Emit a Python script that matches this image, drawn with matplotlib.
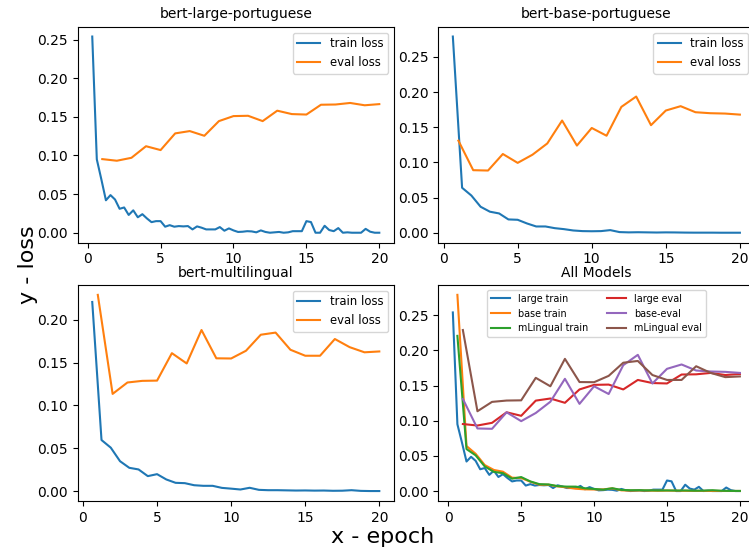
import numpy as np
import matplotlib
matplotlib.use('Agg')
import matplotlib.pyplot as plt

# train loss of bert-large, logged 64 times (every 5/16 epoch)
large_train = [0.254, 0.095, 0.069, 0.042, 0.0487, 0.043, 0.031, 0.0327, 0.023, 0.029,
               0.020, 0.024, 0.0185, 0.0137, 0.015, 0.015, 0.0078, 0.0098, 0.0078, 0.0086,
               0.0082, 0.0086, 0.0043, 0.0082, 0.0065, 0.0043, 0.0043, 0.0043, 0.0073, 0.0026,
               0.0056, 0.003, 0.001, 0.0013, 0.002, 0.0017, 0.0005, 0.003, 0.001, 0.0,
               0.0005, 0.001, 0.0, 0.0005, 0.002, 0.002, 0.002, 0.015, 0.0138, 0.0,
               0.0, 0.009, 0.0035, 0.002, 0.006, 0.0, 0.0005, 0.0, 0.0, 0.0,
               0.005, 0.0013, 0.0, 0.0]
# train loss of bert-base and bert-multilingual, logged 32 times (every 5/8 epoch)
base_train = [0.279, 0.064, 0.053, 0.037, 0.030, 0.0275, 0.019, 0.0185, 0.0133, 0.009,
              0.009, 0.0066, 0.0052, 0.0033, 0.0024, 0.0022, 0.0024, 0.0038, 0.001, 0.0006,
              0.0008, 0.0006, 0.0004, 0.0006, 0.0005, 0.0003, 0.0002, 0.0002, 0.0002, 0.0001,
              0.0001, 0.0001]
mling_train = [0.2207, 0.0597, 0.0508, 0.035, 0.0273, 0.0254, 0.0176, 0.0199, 0.0137, 0.0098,
               0.0094, 0.007, 0.0063, 0.0063, 0.0039, 0.003, 0.002, 0.004, 0.0016, 0.0012,
               0.0012, 0.001, 0.0008, 0.0009, 0.0007, 0.0008, 0.0005, 0.0006, 0.0012, 0.0004,
               0.0002, 0.0002]
# eval loss, once per epoch
eval_epoch = list(range(1, 21))
large_eval = [0.0953, 0.0932, 0.097, 0.112, 0.107, 0.1286, 0.1316, 0.1255, 0.1445, 0.151,
              0.1514, 0.1445, 0.158, 0.1536, 0.153, 0.1657, 0.166, 0.168, 0.165, 0.1665]
base_eval = [0.131, 0.089, 0.0885, 0.112, 0.0994, 0.111, 0.127, 0.1596, 0.124, 0.149,
             0.138, 0.179, 0.1937, 0.153, 0.1738, 0.180, 0.1714, 0.170, 0.1695, 0.168]
mling_eval = [0.229, 0.1135, 0.1268, 0.1287, 0.129, 0.161, 0.149, 0.188, 0.155, 0.1548,
              0.1638, 0.1825, 0.185, 0.165, 0.158, 0.158, 0.1775, 0.168, 0.162, 0.163]

large_epoch = np.arange(1, len(large_train) + 1) * 20 / len(large_train)
base_epoch = np.arange(1, len(base_train) + 1) * 20 / len(base_train)
mling_epoch = np.arange(1, len(mling_train) + 1) * 20 / len(mling_train)

fig, axs = plt.subplots(2, 2, figsize=(7.49, 5.51), dpi=100)
plt.subplots_adjust(left=0.104, right=1.007, bottom=0.091, top=0.9515, wspace=0.142, hspace=0.197)

panels = [('bert-large-portuguese', large_epoch, large_train, large_eval),
          ('bert-base-portuguese', base_epoch, base_train, base_eval),
          ('bert-multilingual', mling_epoch, mling_train, mling_eval)]
for ax, (name, ep, tr, ev) in zip([axs[0, 0], axs[0, 1], axs[1, 0]], panels):
    ax.plot(ep, tr, label='train loss')
    ax.plot(eval_epoch, ev, label='eval loss')
    ax.set_title(name, fontsize=10)
    ax.legend(loc='upper right', fontsize='small')

# all models together
ax = axs[1, 1]
ax.plot(large_epoch, large_train, label='large train')
ax.plot(base_epoch, base_train, label='base train')
ax.plot(mling_epoch, mling_train, label='mLingual train')
ax.plot(eval_epoch, large_eval, label='large eval')
ax.plot(eval_epoch, base_eval, label='base-eval')
ax.plot(eval_epoch, mling_eval, label='mLingual eval')
ax.set_title('All Models', fontsize=10)
ax.legend(loc='upper center', ncol=2, fontsize='x-small')

for a in axs.flat:
    a.set_xticks([0, 5, 10, 15, 20])

fig.text(0.511, 0.025, 'x - epoch', fontsize=16, ha='center', va='center')
fig.text(0.038, 0.52, 'y - loss', fontsize=16, ha='center', va='center', rotation=90)

plt.savefig('out.png', dpi=100)
